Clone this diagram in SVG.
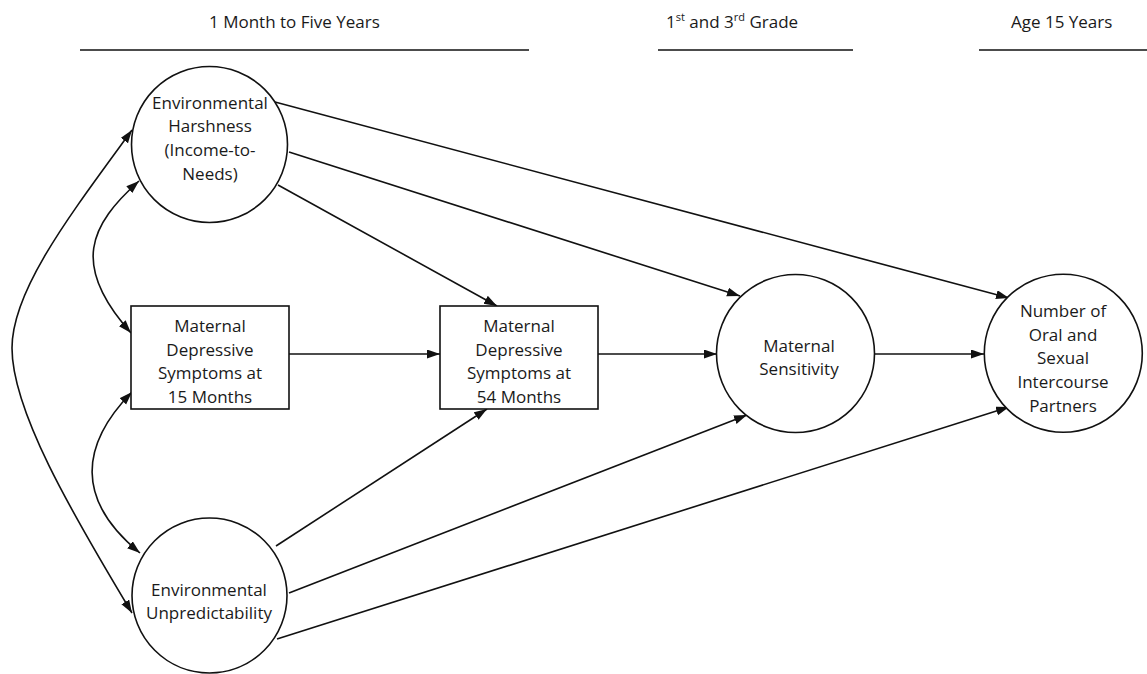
<svg xmlns="http://www.w3.org/2000/svg" width="1147" height="674" viewBox="0 0 1147 674">
<style>
text{font-family:"Open Sans","Liberation Sans",sans-serif;font-size:17px;fill:#1a1a1a;text-anchor:middle}
.hd{text-anchor:start}
.node{fill:#fff;stroke:#111;stroke-width:1.6}
.rule{stroke:#111;stroke-width:1.4}
.edge{fill:none;stroke:#111;stroke-width:1.6;marker-end:url(#ah)}
.bi{fill:none;stroke:#111;stroke-width:1.6;marker-start:url(#ah);marker-end:url(#ah)}
</style>
<defs>
<marker id="ah" markerUnits="userSpaceOnUse" markerWidth="14" markerHeight="10" refX="13" refY="4.5" orient="auto-start-reverse">
<path d="M0,0 L13,4.5 L0,9 z" fill="#111"/>
</marker>
</defs>
<rect width="1147" height="674" fill="#fff"/>
<g id="headers">
<text class="hd" x="209" y="28">1 Month to Five Years</text>
<text class="hd" x="666" y="28">1<tspan font-size="11" dy="-7">st</tspan><tspan dy="7"> and 3</tspan><tspan font-size="11" dy="-7">rd</tspan><tspan dy="7"> Grade</tspan></text>
<text class="hd" x="1011" y="28">Age 15 Years</text>
<line class="rule" x1="80" y1="50" x2="529" y2="50"/>
<line class="rule" x1="658" y1="50" x2="853" y2="50"/>
<line class="rule" x1="979" y1="50" x2="1147" y2="50"/>
</g>
<g id="connectors">
<path class="bi" d="M132,130 C70,215 12,290 12,348 C12,410 70,510 132,613"/>
<path class="bi" d="M139,181 C90,225 70,265 131,333"/>
<path class="bi" d="M132,392 C80,445 75,500 140,553"/>
<line class="edge" x1="275" y1="102" x2="1009" y2="298"/>
<line class="edge" x1="289" y1="152" x2="740" y2="296"/>
<line class="edge" x1="278" y1="185" x2="497" y2="306"/>
<line class="edge" x1="276" y1="546" x2="487" y2="409"/>
<line class="edge" x1="289" y1="593" x2="747" y2="415"/>
<line class="edge" x1="277" y1="639" x2="1009" y2="407"/>
<line class="edge" x1="289" y1="354" x2="440" y2="354"/>
<line class="edge" x1="598" y1="354" x2="717" y2="354"/>
<line class="edge" x1="875" y1="354" x2="984" y2="354"/>
</g>
<g id="harshness">
<circle class="node" cx="209.5" cy="144.5" r="78"/>
<text x="210" y="108.5">Environmental</text>
<text x="210" y="132.3">Harshness</text>
<text x="210" y="156">(Income-to-</text>
<text x="210" y="179.7">Needs)</text>
</g>
<g id="unpredictability">
<circle class="node" cx="209.5" cy="595.5" r="77.5"/>
<text x="209" y="596">Environmental</text>
<text x="209" y="619">Unpredictability</text>
</g>
<g id="dep15">
<rect class="node" x="131" y="306" width="158" height="103"/>
<text x="210" y="332">Maternal</text>
<text x="210" y="355.7">Depressive</text>
<text x="210" y="379.4">Symptoms at</text>
<text x="210" y="403">15 Months</text>
</g>
<g id="dep54">
<rect class="node" x="440" y="306" width="158" height="103"/>
<text x="519" y="332">Maternal</text>
<text x="519" y="355.7">Depressive</text>
<text x="519" y="379.4">Symptoms at</text>
<text x="519" y="403">54 Months</text>
</g>
<g id="sensitivity">
<circle class="node" cx="795.5" cy="353.5" r="79"/>
<text x="799" y="351.5">Maternal</text>
<text x="799" y="375">Sensitivity</text>
</g>
<g id="partners">
<circle class="node" cx="1063.3" cy="353.3" r="79"/>
<text x="1063" y="316.7">Number of</text>
<text x="1063" y="340.5">Oral and</text>
<text x="1063" y="364.3">Sexual</text>
<text x="1063" y="388.2">Intercourse</text>
<text x="1063" y="412">Partners</text>
</g>
</svg>
